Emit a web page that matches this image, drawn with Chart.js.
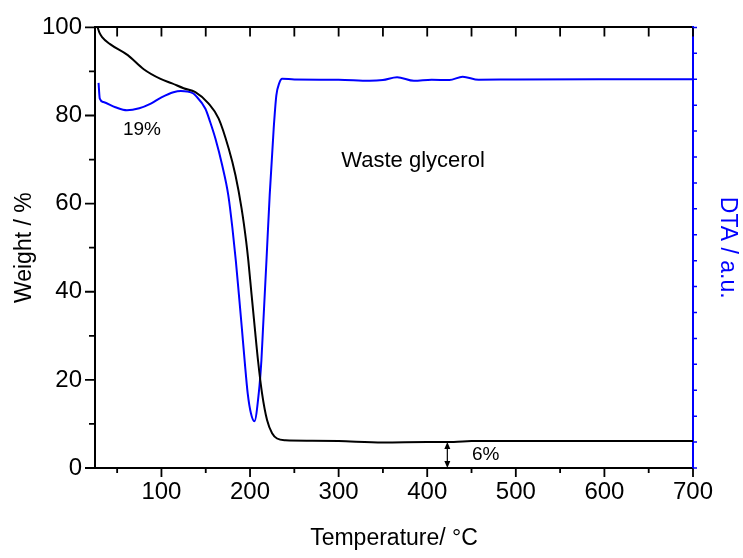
<!DOCTYPE html>
<html>
<head>
<meta charset="utf-8">
<script src="https://cdn.jsdelivr.net/npm/chart.js@4"></script>
<style>
  html, body { margin: 0; padding: 0; background: #fff; }
  canvas { display: block; }
</style>
</head>
<body>
<canvas id="tga" width="743" height="558"></canvas>
<script>
// weight loss curve (TGA)
const tgaTemp   = [28, 30, 33, 42, 62, 80, 99, 112, 125, 138.3, 153.3, 164.6, 175.9, 183.5, 190.4, 195.6, 198.1, 201.7, 205.3, 209, 213.6, 219.2, 224.9, 230.5, 240, 270, 300, 350, 400, 430, 450, 500, 550, 600, 650, 700];
const tgaWeight = [100, 98.8, 97.8, 96.2, 93.7, 90.5, 88.3, 87.3, 86.2, 85.3, 82.7, 79.3, 72.5, 66.5, 59.0, 51.5, 47.0, 39.4, 31.9, 24.4, 16.9, 10.9, 7.9, 6.7, 6.3, 6.2, 6.1, 5.8, 5.9, 5.9, 6.1, 6.1, 6.1, 6.1, 6.1, 6.1];

// DTA signal (arbitrary units, right axis 0..17)
const dtaTemp   = [29, 30.4, 34.5, 48, 61, 75, 88, 100, 113.5, 122, 129, 136, 138.3, 149.6, 155, 160.9, 168.5, 175.4, 180.1, 184, 187.4, 190.7, 193.9, 197.4, 201, 204.9, 209.8, 212.8, 214.7, 218.5, 222.2, 226.7, 229.7, 233, 236.2, 250, 300, 335, 350, 366, 385, 405, 425, 440, 458, 500, 600, 700];
const dtaSignal = [14.86, 14.25, 14.12, 13.92, 13.80, 13.88, 14.06, 14.30, 14.50, 14.55, 14.53, 14.45, 14.38, 13.86, 13.35, 12.71, 11.69, 10.54, 9.26, 7.98, 6.70, 5.42, 4.14, 2.87, 2.11, 1.80, 2.87, 4.14, 5.42, 7.98, 10.54, 13.10, 14.38, 14.85, 15.02, 14.99, 14.98, 14.94, 14.97, 15.08, 14.94, 14.98, 14.97, 15.1, 14.98, 14.99, 15.0, 15.0];

// axis ticks
const xMajor = [100, 200, 300, 400, 500, 600, 700];
const xMinor = [50, 150, 250, 350, 450, 550, 650];
const yMajor = [0, 20, 40, 60, 80, 100];
const yMinor = [10, 30, 50, 70, 90];
const dtaTicks = [0, 1, 2, 3, 4, 5, 6, 7, 8, 9, 10, 11, 12, 13, 14, 15, 16, 17];

// text in the plot
const notes = [
  { text: '19%', x: 78, y: 76.8, size: 19 },
  { text: 'Waste glycerol', x: 384, y: 69.8, size: 22 },
  { text: '6%', x: 466, y: 2.9, size: 19 }
];
const arrowTemp = 422.7, arrowTop = 5.9;

const FONT = "'Liberation Sans', Arial, sans-serif";
const BLUE = '#0000ff';

const tickMarks = {
  id: 'tickMarks',
  afterDatasetsDraw(chart) {
    const { ctx, chartArea: a, scales } = chart;
    const x = scales.x, y = scales.y, y2 = scales.y2;
    ctx.save();
    ctx.lineWidth = 1.8;
    ctx.strokeStyle = '#000';
    ctx.beginPath();
    xMajor.forEach(v => {
      const p = x.getPixelForValue(v);
      ctx.moveTo(p, a.bottom); ctx.lineTo(p, a.bottom + 9);
      ctx.moveTo(p, a.top); ctx.lineTo(p, a.top + 9);
    });
    xMinor.forEach(v => {
      const p = x.getPixelForValue(v);
      ctx.moveTo(p, a.bottom); ctx.lineTo(p, a.bottom + 5);
      ctx.moveTo(p, a.top); ctx.lineTo(p, a.top + 9);
    });
    yMajor.forEach(v => {
      const p = y.getPixelForValue(v);
      ctx.moveTo(a.left, p); ctx.lineTo(a.left - 10, p);
    });
    yMinor.forEach(v => {
      const p = y.getPixelForValue(v);
      ctx.moveTo(a.left, p); ctx.lineTo(a.left - 6, p);
    });
    ctx.stroke();
    ctx.strokeStyle = BLUE;
    ctx.lineWidth = 1.5;
    ctx.beginPath();
    dtaTicks.forEach(v => {
      const p = y2.getPixelForValue(v);
      ctx.moveTo(a.right, p); ctx.lineTo(a.right + 4, p);
    });
    ctx.stroke();
    ctx.restore();
  }
};

const plotText = {
  id: 'plotText',
  afterDatasetsDraw(chart) {
    const { ctx, scales: { x, y } } = chart;
    ctx.save();
    ctx.fillStyle = '#000';
    ctx.textAlign = 'center';
    ctx.textBaseline = 'middle';
    notes.forEach(n => {
      ctx.font = n.size + 'px ' + FONT;
      ctx.fillText(n.text, x.getPixelForValue(n.x), y.getPixelForValue(n.y));
    });
    // double arrow for the residue
    const ax = x.getPixelForValue(arrowTemp);
    const top = y.getPixelForValue(arrowTop), bot = y.getPixelForValue(0);
    ctx.strokeStyle = '#000';
    ctx.lineWidth = 1.2;
    ctx.beginPath();
    ctx.moveTo(ax, top + 3); ctx.lineTo(ax, bot - 3);
    ctx.stroke();
    ctx.beginPath();
    ctx.moveTo(ax, top); ctx.lineTo(ax - 3, top + 7); ctx.lineTo(ax + 3, top + 7); ctx.closePath();
    ctx.moveTo(ax, bot); ctx.lineTo(ax - 3, bot - 7); ctx.lineTo(ax + 3, bot - 7); ctx.closePath();
    ctx.fill();
    ctx.restore();
  }
};

new Chart(document.getElementById('tga'), {
  type: 'line',
  data: {
    datasets: [
      {
        label: 'TGA',
        data: tgaTemp.map((t, i) => ({ x: t, y: tgaWeight[i] })),
        borderColor: '#000',
        borderWidth: 2,
        pointRadius: 0,
        cubicInterpolationMode: 'monotone',
        xAxisID: 'x',
        yAxisID: 'y'
      },
      {
        label: 'DTA',
        data: dtaTemp.map((t, i) => ({ x: t, y: dtaSignal[i] })),
        borderColor: BLUE,
        borderWidth: 2,
        pointRadius: 0,
        cubicInterpolationMode: 'monotone',
        xAxisID: 'x',
        yAxisID: 'y2'
      }
    ]
  },
  options: {
    responsive: false,
    animation: false,
    devicePixelRatio: 1,
    layout: { padding: 0 },
    plugins: { legend: { display: false }, tooltip: { enabled: false } },
    scales: {
      x: {
        type: 'linear', position: 'bottom', min: 25, max: 700,
        afterBuildTicks: s => { s.ticks = xMajor.map(v => ({ value: v })); },
        afterFit: s => { s.height = 90; },
        grid: { display: false, drawTicks: false },
        border: { color: '#000', width: 2 },
        ticks: { color: '#000', font: { family: FONT, size: 24 }, padding: 10, maxRotation: 0 },
        title: { display: true, text: 'Temperature/ °C', color: '#000', font: { family: FONT, size: 23 }, padding: { top: 0, bottom: 6 } }
      },
      xTop: {
        type: 'linear', position: 'top', min: 25, max: 700,
        afterFit: s => { s.height = 25; },
        grid: { display: false, drawTicks: false },
        border: { color: '#000', width: 2 },
        ticks: { display: false }
      },
      y: {
        type: 'linear', position: 'left', min: 0, max: 100,
        afterBuildTicks: s => { s.ticks = yMajor.map(v => ({ value: v })); },
        afterFit: s => { s.width = 95; },
        grid: { display: false, drawTicks: false },
        border: { color: '#000', width: 2 },
        ticks: { color: '#000', font: { family: FONT, size: 24 }, padding: 13 },
        title: { display: true, text: 'Weight / %', color: '#000', font: { family: FONT, size: 23 }, padding: { top: 11, bottom: 0 } }
      },
      y2: {
        type: 'linear', position: 'right', min: 0, max: 17,
        afterFit: s => { s.width = 50; },
        grid: { display: false, drawTicks: false },
        border: { color: BLUE, width: 2 },
        ticks: { display: false },
        title: { display: true, text: 'DTA / a.u.', color: BLUE, font: { family: FONT, size: 23 }, padding: { top: 2, bottom: 0 } }
      }
    }
  },
  plugins: [tickMarks, plotText]
});
</script>
</body>
</html>
